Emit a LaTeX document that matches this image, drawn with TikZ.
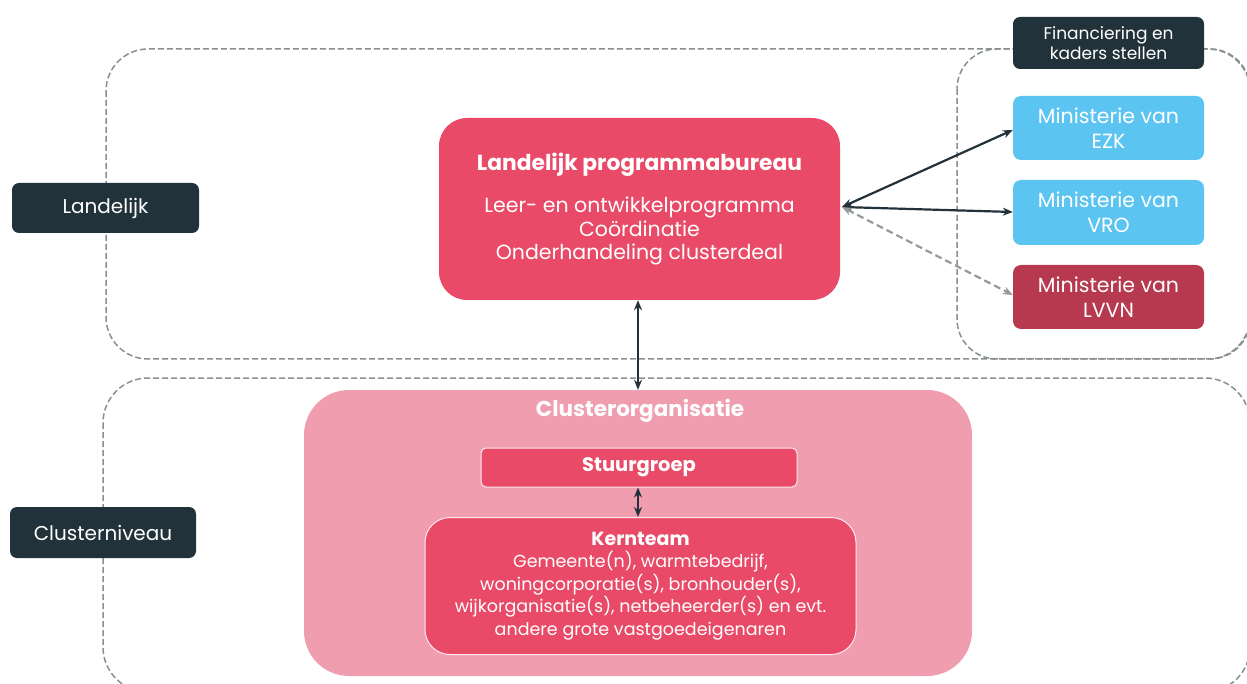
\documentclass[tikz,border=0pt]{standalone}
\usepackage{fontspec}
\setmainfont{Poppins}
\usetikzlibrary{arrows.meta}
\definecolor{bureau}{HTML}{E84A67}
\definecolor{clpink}{HTML}{F19DB0}
\definecolor{minblue}{HTML}{5BC4F1}
\definecolor{minred}{HTML}{B7394F}
\definecolor{darkbox}{HTML}{22323A}
\definecolor{dashgray}{HTML}{8A8F92}
\definecolor{arrowdark}{HTML}{23323A}
\tikzset{
  dashbox/.style={draw=dashgray, line width=1.5pt, dash pattern=on 6pt off 3pt, rounded corners=42pt},
  levellabel/.style={fill=darkbox, text=white, rounded corners=7pt, font=\fontsize{20}{24}\selectfont, inner sep=0pt},
  minbox/.style={fill=minblue, text=white, rounded corners=8pt, minimum width=191pt, minimum height=64pt, inner sep=0pt, align=center, font=\fontsize{20.5}{25}\selectfont},
  biarrow/.style={draw=arrowdark, line width=2.2pt, {Stealth[length=10pt,width=8pt]}-{Stealth[length=10pt,width=8pt]}},
  grayarrow/.style={draw=dashgray!90, line width=2.2pt, dash pattern=on 7pt off 4pt, {Stealth[length=10pt,width=8pt]}-{Stealth[length=10pt,width=8pt]}},
}
\begin{document}
\begin{tikzpicture}[x=1pt,y=-1pt]
\useasboundingbox (0,0) rectangle (1247,684);
% dashed containers
\draw[dashbox] (106,49) rectangle (1250,359);
\draw[dashbox, rounded corners=40pt] (957,49) rectangle (1250,359);
\draw[dashbox, rounded corners=45pt] (103,378) rectangle (1250,692);
% level labels
\node[levellabel, minimum width=187pt, minimum height=50pt] (landelijk) at (105.5,208) {Landelijk};
\node[levellabel, minimum width=186pt, minimum height=51pt] (clusterniveau) at (103,532.5) {Clusterniveau};
% ministries
\node[levellabel, minimum width=191pt, minimum height=52pt, align=center, font=\fontsize{17}{20}\selectfont] (fin) at (1108.5,43) {Financiering en\\kaders stellen};
\node[minbox] (ezk) at (1108.5,128) {Ministerie van\\EZK};
\node[minbox, minimum height=65pt] (vro) at (1108.5,212.5) {Ministerie van\\VRO};
\node[minbox, fill=minred] (lvvn) at (1108.5,297) {Ministerie van\\LVVN};
% bureau
\node[fill=bureau, text=white, rounded corners=28pt, minimum width=401pt, minimum height=182pt, inner sep=0pt, align=center, font=\fontsize{20.5}{23.5}\selectfont] (bureau) at (639.5,209)
  {{\bfseries\fontsize{21.8}{25}\selectfont Landelijk programmabureau}\\[19pt]Leer- en ontwikkelprogramma\\Coördinatie\\Onderhandeling clusterdeal};
% cluster organisation
\node[fill=clpink, rounded corners=45pt, minimum width=668pt, minimum height=286pt, inner sep=0pt] (cluster) at (638,533) {};
\node[text=white, font=\bfseries\fontsize{21.5}{24}\selectfont, inner sep=0pt] (clustertitle) at (640,411) {Clusterorganisatie};
\node[fill=bureau, draw=white!80!clpink, line width=1pt, rounded corners=5pt, minimum width=316pt, minimum height=39pt, inner sep=0pt, text=white, font=\bfseries\fontsize{19.5}{22}\selectfont] (stuur) at (639,467.5) {Stuurgroep};
\node[fill=bureau, draw=white!80!clpink, line width=1pt, rounded corners=25pt, minimum width=431pt, minimum height=137pt, inner sep=0pt, text=white, align=center, font=\fontsize{17.5}{22.5}\selectfont] (kern) at (640.5,586)
  {{\bfseries\fontsize{19}{22.5}\selectfont Kernteam}\\Gemeente(n), warmtebedrijf,\\woningcorporatie(s), bronhouder(s),\\wijkorganisatie(s), netbeheerder(s) en evt.\\andere grote vastgoedeigenaren};
% connectors
\coordinate (bhub) at (842,207);
\draw[biarrow] (bhub) -- (ezk.west |- 0,130);
\draw[biarrow] (bhub) -- (vro.west |- 0,212);
\draw[grayarrow] (bhub) -- (lvvn.west |- 0,295);
\draw[biarrow] (bureau.south -| 638,0) -- (cluster.north -| 638,0);
\draw[biarrow] (stuur.south -| 638,0) -- (kern.north -| 638,0);
\end{tikzpicture}
\end{document}
